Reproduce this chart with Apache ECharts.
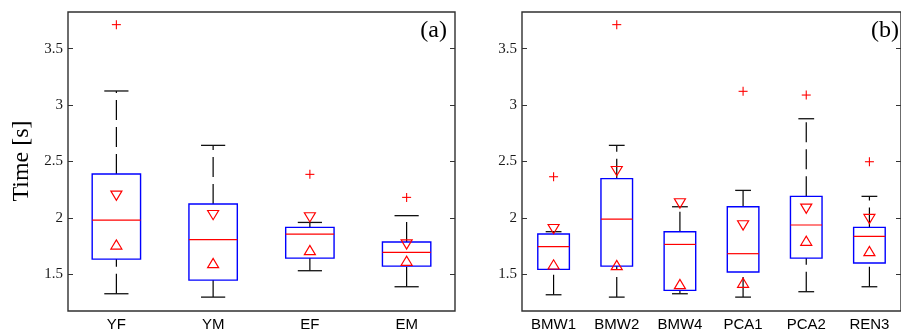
<!DOCTYPE html>
<html>
<head>
<meta charset="utf-8">
<script src="https://cdn.jsdelivr.net/npm/echarts@6/dist/echarts.min.js"></script>
<style>
  html, body { margin: 0; padding: 0; background: #fff; }
  #chart { width: 901px; height: 333px; }
</style>
</head>
<body>
<div id="chart"></div>
<script>
// Panel (a): groups
const categoriesA = ['YF', 'YM', 'EF', 'EM'];
const whiskerLowA  = [1.328, 1.298, 1.532, 1.390];
const q1A          = [1.635, 1.449, 1.644, 1.573];
const medianA      = [1.981, 1.807, 1.857, 1.694];
const q3A          = [2.389, 2.123, 1.916, 1.786];
const whiskerHighA = [3.125, 2.643, 1.960, 2.020];
const notchLowA    = [1.765, 1.600, 1.715, 1.621];
const notchHighA   = [2.197, 2.025, 2.005, 1.765];
const outliersA    = [[0, 3.713], [2, 2.386], [3, 2.182]];

// Panel (b): methods
const categoriesB = ['BMW1', 'BMW2', 'BMW4', 'PCA1', 'PCA2', 'REN3'];
const whiskerLowB  = [1.319, 1.298, 1.328, 1.298, 1.346, 1.390];
const q1B          = [1.544, 1.573, 1.358, 1.520, 1.644, 1.600];
const medianB      = [1.745, 1.990, 1.765, 1.683, 1.937, 1.836];
const q3B          = [1.857, 2.348, 1.878, 2.099, 2.191, 1.916];
const whiskerHighB = [1.878, 2.643, 2.099, 2.244, 2.879, 2.191];
const notchLowB    = [1.588, 1.582, 1.414, 1.426, 1.798, 1.706];
const notchHighB   = [1.901, 2.415, 2.129, 1.934, 2.082, 1.990];
const outliersB    = [[0, 2.365], [1, 3.713], [3, 3.122], [4, 3.089], [5, 2.498]];

// Shared value axis
const yTicks = [1.5, 2, 2.5, 3, 3.5];
const yMin = 1.175;
const yMax = 3.825;

const RED = '#ff0000';
const BLUE = '#0000ff';

function renderBox(params, api) {
  const c = api.value(0);
  const lo = api.coord([c, api.value(1)]);
  const q1 = api.coord([c, api.value(2)]);
  const md = api.coord([c, api.value(3)]);
  const q3 = api.coord([c, api.value(4)]);
  const hi = api.coord([c, api.value(5)]);
  const band = api.size([1, 0])[0];
  const bw = band * 0.5;
  const cw = bw * 0.5;
  const x = lo[0];
  const whisker = { stroke: '#000', lineWidth: 1.2, lineDash: [20, 7] };
  const cap = { stroke: '#111', lineWidth: 1.3 };
  return {
    type: 'group',
    children: [
      { type: 'line', shape: { x1: x, y1: lo[1], x2: x, y2: q1[1] }, style: whisker },
      { type: 'line', shape: { x1: x, y1: q3[1], x2: x, y2: hi[1] }, style: whisker },
      { type: 'line', shape: { x1: x - cw / 2, y1: lo[1], x2: x + cw / 2, y2: lo[1] }, style: cap },
      { type: 'line', shape: { x1: x - cw / 2, y1: hi[1], x2: x + cw / 2, y2: hi[1] }, style: cap },
      { type: 'rect', shape: { x: x - bw / 2, y: q3[1], width: bw, height: q1[1] - q3[1] },
        style: { fill: 'none', stroke: BLUE, lineWidth: 1.4 } },
      { type: 'line', shape: { x1: x - bw / 2, y1: md[1], x2: x + bw / 2, y2: md[1] },
        style: { stroke: RED, lineWidth: 1.2 } }
    ]
  };
}

function renderPlus(params, api) {
  const p = api.coord([api.value(0), api.value(1)]);
  const h = 4.5;
  const st = { stroke: RED, lineWidth: 1.1 };
  return {
    type: 'group',
    children: [
      { type: 'line', shape: { x1: p[0] - h, y1: p[1], x2: p[0] + h, y2: p[1] }, style: st },
      { type: 'line', shape: { x1: p[0], y1: p[1] - h, x2: p[0], y2: p[1] + h }, style: st }
    ]
  };
}

function triangleRenderer(pointUp) {
  return function (params, api) {
    const p = api.coord([api.value(0), api.value(1)]);
    const w = 5.5, h = 4.6;
    const pts = pointUp
      ? [[p[0] - w, p[1] + h], [p[0] + w, p[1] + h], [p[0], p[1] - h]]
      : [[p[0] - w, p[1] - h], [p[0] + w, p[1] - h], [p[0], p[1] + h]];
    return {
      type: 'polygon',
      shape: { points: pts },
      style: { fill: 'none', stroke: RED, lineWidth: 1.2 }
    };
  };
}

function boxData(lo, q1, md, q3, hi) {
  return lo.map((_, i) => [i, lo[i], q1[i], md[i], q3[i], hi[i]]);
}
function pointData(vals) {
  return vals.map((v, i) => [i, v]);
}

function panelSeries(axisIndex, lo, q1, md, q3, hi, nLow, nHigh, outs) {
  const common = { xAxisIndex: axisIndex, yAxisIndex: axisIndex * 2, silent: true };
  return [
    Object.assign({ type: 'custom', renderItem: renderBox,
      data: boxData(lo, q1, md, q3, hi), encode: { x: 0, y: [1, 2, 3, 4, 5] }, z: 2 }, common),
    Object.assign({ type: 'custom', renderItem: triangleRenderer(true),
      data: pointData(nLow), encode: { x: 0, y: 1 }, z: 3 }, common),
    Object.assign({ type: 'custom', renderItem: triangleRenderer(false),
      data: pointData(nHigh), encode: { x: 0, y: 1 }, z: 3 }, common),
    Object.assign({ type: 'custom', renderItem: renderPlus,
      data: outs, encode: { x: 0, y: 1 }, z: 3 }, common)
  ];
}

function xAxisFor(gridIndex, cats) {
  return {
    type: 'category', gridIndex: gridIndex, data: cats,
    axisLine: { show: false }, axisTick: { show: false }, splitLine: { show: false },
    axisLabel: { fontFamily: 'Liberation Sans', fontSize: 15, color: '#000', margin: 6 }
  };
}

function yAxisFor(gridIndex, position, showLabels) {
  return {
    type: 'value', gridIndex: gridIndex, position: position,
    min: yMin, max: yMax,
    splitLine: { show: false },
    axisLine: { show: false },
    axisTick: { show: true, inside: true, length: 5, customValues: yTicks,
      lineStyle: { color: '#333', width: 1 } },
    axisLabel: { show: showLabels, customValues: yTicks, margin: 5,
      fontFamily: 'Liberation Serif', fontSize: 15, color: '#1a1a1a',
      formatter: v => String(v) }
  };
}

const chart = echarts.init(document.getElementById('chart'), null, { renderer: 'canvas' });
chart.setOption({
  animation: false,
  backgroundColor: '#fff',
  grid: [
    { left: 68, top: 12, width: 387, height: 299, show: true,
      borderColor: '#303030', borderWidth: 1.4, backgroundColor: 'transparent' },
    { left: 522, top: 12, width: 385, height: 299, show: true,
      borderColor: '#303030', borderWidth: 1.4, backgroundColor: 'transparent' }
  ],
  xAxis: [xAxisFor(0, categoriesA), xAxisFor(1, categoriesB)],
  yAxis: [
    yAxisFor(0, 'left', true), yAxisFor(0, 'right', false),
    yAxisFor(1, 'left', true), yAxisFor(1, 'right', false)
  ],
  graphic: [
    { type: 'text', x: 22, y: 161, rotation: Math.PI / 2,
      style: { text: 'Time [s]', fontFamily: 'Liberation Serif', fontSize: 24,
        fill: '#000', textAlign: 'center', textVerticalAlign: 'middle' } },
    { type: 'text', x: 447, y: 31,
      style: { text: '(a)', fontFamily: 'Liberation Serif', fontSize: 24,
        fill: '#000', textAlign: 'right', textVerticalAlign: 'middle' } },
    { type: 'text', x: 899, y: 31,
      style: { text: '(b)', fontFamily: 'Liberation Serif', fontSize: 24,
        fill: '#000', textAlign: 'right', textVerticalAlign: 'middle' } }
  ],
  series: [].concat(
    panelSeries(0, whiskerLowA, q1A, medianA, q3A, whiskerHighA, notchLowA, notchHighA, outliersA),
    panelSeries(1, whiskerLowB, q1B, medianB, q3B, whiskerHighB, notchLowB, notchHighB, outliersB)
  )
});
</script>
</body>
</html>
